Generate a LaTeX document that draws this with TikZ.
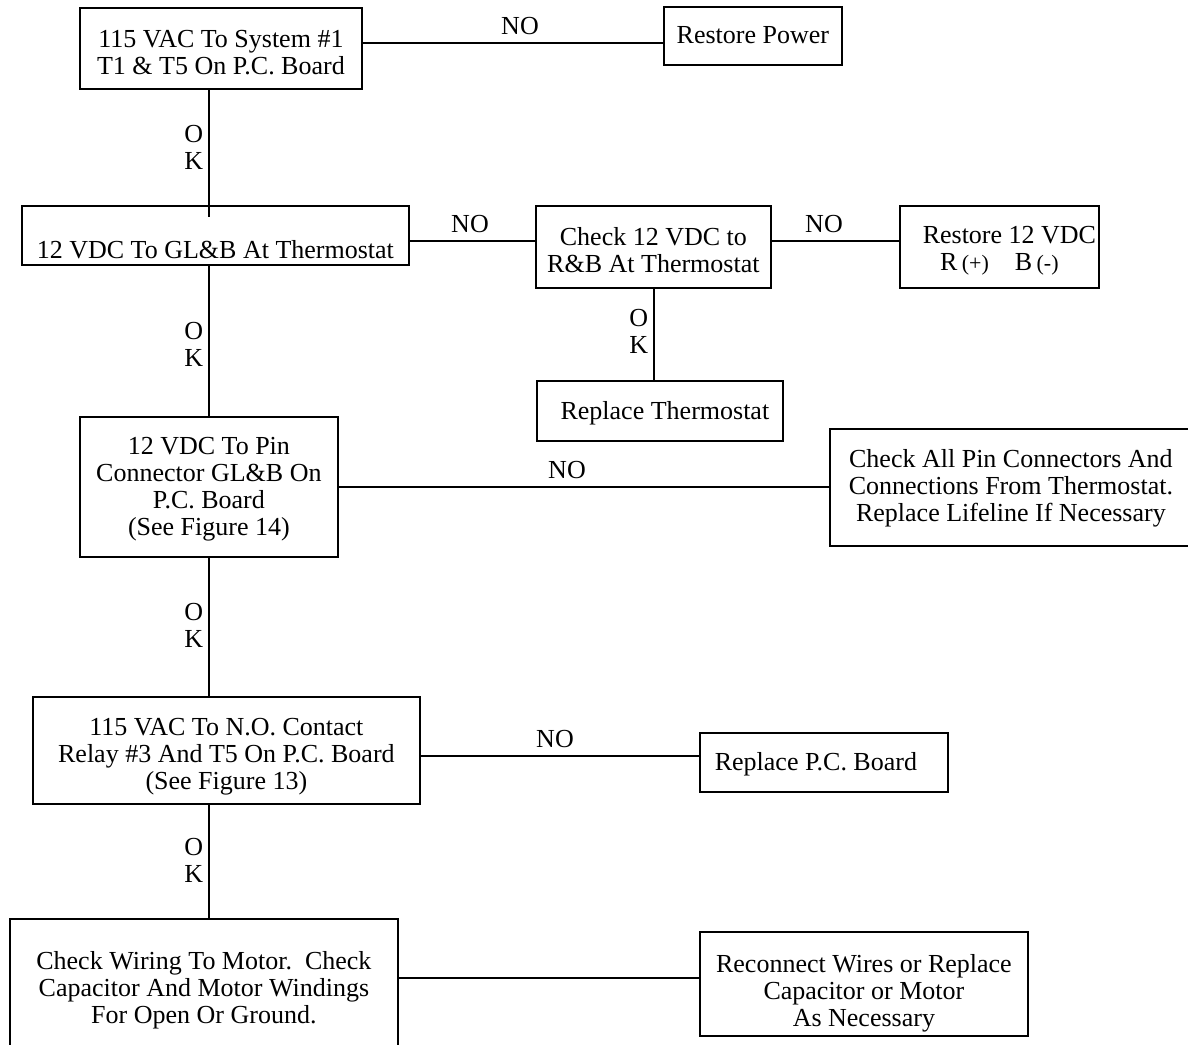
\documentclass[tikz,border=0pt]{standalone}
\usepackage{fontspec}
\setmainfont{Liberation Serif}
\newcommand\flowfont{\fontsize{26}{27}\selectfont}
\newcommand\parenfont{\fontsize{22}{27}\selectfont}
\begin{document}
\begin{tikzpicture}[x=1pt,y=-1pt,
  box/.style={draw, line width=1.8pt, inner sep=0pt, anchor=north west,
    align=flush center, font=\flowfont},
  conn/.style={line width=1.8pt},
  nolabel/.style={anchor=base, inner sep=0pt, font=\flowfont},
  oklabel/.style={anchor=north east, inner sep=0pt, text width=20pt,
    text height=17pt, align=flush center, font=\flowfont}]
\useasboundingbox (0,0) rectangle (1188,1044);

% decision and action boxes
\node[box, text width=282pt, text height=40pt, text depth=41pt] (A) at (79,7)
  {115 VAC To System \#1\\T1 \& T5 On P.C. Board};
\node[box, text width=178pt, text height=37pt, text depth=21pt] (B) at (663,6)
  {Restore Power};
\node[box, text width=387pt, text height=53pt, text depth=6pt] (C) at (21,205)
  {12 VDC To GL\&B At Thermostat};
\node[box, text width=235pt, text height=40pt, text depth=42pt] (D) at (535,205)
  {Check 12 VDC to\\R\&B At Thermostat};
\node[box, text width=199pt, text height=38pt, text depth=44pt] (E) at (899,205)
  {\hspace*{20pt}Restore 12 VDC\\R\,{\parenfont(+)}\hspace{26pt}B\,{\parenfont(-)}};
\node[box, text width=246pt, text height=39pt, text depth=21pt] (F) at (536,380)
  {\hspace*{10pt}Replace Thermostat};
\node[box, text width=258pt, text height=38pt, text depth=102pt] (G) at (79,416)
  {12 VDC To Pin\\Connector GL\&B On\\P.C. Board\\(See Figure 14)};
\node[box, text width=362pt, text height=39pt, text depth=78pt] (H) at (829,428)
  {Check All Pin Connectors And\\Connections From Thermostat.\\Replace Lifeline If Necessary};
\node[box, text width=387pt, text height=39pt, text depth=68pt] (I) at (32,696)
  {115 VAC To N.O. Contact\\Relay \#3 And T5 On P.C. Board\\(See Figure 13)};
\node[box, text width=248pt, text height=38pt, text depth=21pt] (J) at (699,732)
  {\hspace*{-16pt}Replace P.C. Board};
\node[box, text width=388pt, text height=51pt, text depth=77pt] (K) at (9,918)
  {Check Wiring To Motor.~~Check\\Capacitor And Motor Windings\\For Open Or Ground.};
\node[box, text width=328pt, text height=41pt, text depth=63pt] (L) at (699,931)
  {Reconnect Wires or Replace\\Capacitor or Motor\\As Necessary};

% connectors
\draw[conn] ([yshift=5.5pt]A.east) -- ([yshift=-7pt]B.west);
\draw[conn] ([xshift=-12pt]A.south) -- ([xshift=-6.5pt,yshift=-12pt]C.north);
\draw[conn] ([yshift=-5.5pt]C.east) -- ([yshift=6pt]D.west);
\draw[conn] ([yshift=6pt]D.east) -- ([yshift=6pt]E.west);
\draw[conn] ([xshift=0.5pt]D.south) -- ([xshift=-6pt]F.north);
\draw[conn] ([xshift=-6.5pt]C.south) -- (G.north);
\draw[conn] (G.east) -- ([yshift=0.5pt]H.west);
\draw[conn] (G.south) -- ([xshift=-17.5pt]I.north);
\draw[conn] ([yshift=-5.5pt]I.east) -- ([yshift=6.5pt]J.west);
\draw[conn] ([xshift=-17.5pt]I.south) -- ([xshift=5pt]K.north);
\draw[conn] ([yshift=5pt]K.east) -- ([yshift=6pt]L.west);

% branch labels
\node[nolabel] (no1) at (520,34) {NO};
\node[nolabel] (no2) at (470,232) {NO};
\node[nolabel] (no3) at (824,232) {NO};
\node[nolabel] (no4) at (567,478) {NO};
\node[nolabel] (no5) at (555,747) {NO};
\node[oklabel] (ok1) at (204,125) {O\\K};
\node[oklabel] (ok2) at (204,322) {O\\K};
\node[oklabel] (ok3) at (649,309) {O\\K};
\node[oklabel] (ok4) at (204,603) {O\\K};
\node[oklabel] (ok5) at (204,838) {O\\K};
\end{tikzpicture}
\end{document}
